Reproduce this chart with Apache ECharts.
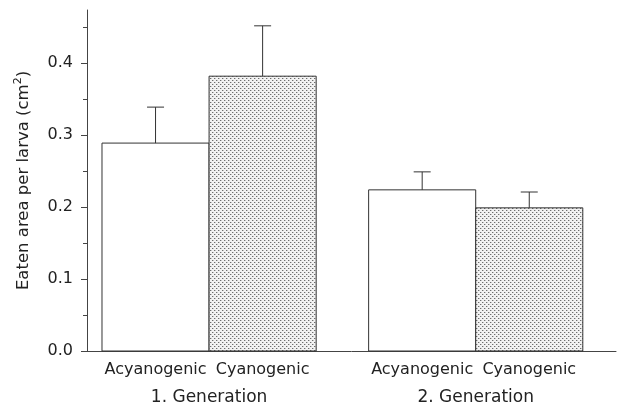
<!DOCTYPE html>
<html><head><meta charset="utf-8">
<script src="https://cdn.jsdelivr.net/npm/echarts@6/dist/echarts.min.js"></script>
<style>html,body{margin:0;padding:0;background:#fff}#c{width:617px;height:412px}</style>
</head><body><div id="c"></div><script>
// ---- data ----
const groups = ['1. Generation', '2. Generation'];
const types = ['Acyanogenic', 'Cyanogenic'];
const acyanoMean = [0.289, 0.224];
const acyanoErr = [0.050, 0.025];
const cyanoMean = [0.382, 0.199];
const cyanoErr = [0.070, 0.022];
const yTicks = [0, 0.1, 0.2, 0.3, 0.4];
const yMinorTicks = [0.05, 0.15, 0.25, 0.35, 0.45];

// ---- layout (x axis in bar-width units) ----
const groupCenters = [1.14, 3.63];
const X_MAX = 4.94;
const FONT = '"DejaVu Sans", "Liberation Sans", Arial, sans-serif';
const LINE = '#333';

// dotted fill pattern
const pc = document.createElement('canvas');
pc.width = 4; pc.height = 4;
const px = pc.getContext('2d');
px.fillStyle = '#f2f2f2'; px.fillRect(0, 0, 4, 4);
px.fillStyle = '#c4c4c4';
px.fillRect(1, 0, 1, 1); px.fillRect(3, 2, 1, 1);
px.fillStyle = '#6e6e6e';
px.fillRect(0, 0, 1, 1); px.fillRect(2, 2, 1, 1);
const dotPattern = { image: pc, repeat: 'repeat' };

const chart = echarts.init(document.getElementById('c'), null, { renderer: 'canvas' });

function barRenderer(sub, fill) {
  return function (params, api) {
    const g = api.value(0), v = api.value(1), e = api.value(2);
    const c = groupCenters[g] + (sub === 0 ? -0.5 : 0.5);
    const tl = api.coord([c - 0.5, v]);
    const br = api.coord([c + 0.5, 0]);
    const top = api.coord([c, v + e]);
    const mid = api.coord([c, v]);
    const capHalf = 8.5;
    return {
      type: 'group',
      children: [
        { type: 'rect', shape: { x: tl[0], y: tl[1], width: br[0] - tl[0], height: br[1] - tl[1] },
          style: { fill: fill, stroke: LINE, lineWidth: 1 } },
        { type: 'line', shape: { x1: mid[0], y1: mid[1], x2: top[0], y2: top[1] },
          style: { stroke: LINE, lineWidth: 1 } },
        { type: 'line', shape: { x1: top[0] - capHalf, y1: top[1], x2: top[0] + capHalf, y2: top[1] },
          style: { stroke: LINE, lineWidth: 1 } },
        { type: 'text', x: mid[0], y: br[1] + 19,
          style: { text: types[sub], fontSize: 16, fontFamily: FONT, fill: '#222', align: 'center', verticalAlign: 'middle' } }
      ]
    };
  };
}

chart.setOption({
  animation: false,
  backgroundColor: '#fff',
  grid: { left: 87, right: 1, top: 10, bottom: 61, containLabel: false },
  xAxis: {
    type: 'value', min: 0, max: X_MAX,
    axisLine: { show: true, lineStyle: { color: '#444', width: 1 } },
    axisTick: { show: false }, axisLabel: { show: false }, splitLine: { show: false }
  },
  yAxis: [{
    type: 'value', min: 0, max: 0.474, interval: 0.1,
    axisLine: { show: true, lineStyle: { color: '#444', width: 1 } },
    axisTick: { show: true, length: 6, customValues: yTicks, lineStyle: { color: '#444' } },
    axisLabel: { customValues: yTicks, margin: 14, fontSize: 16, fontFamily: FONT, color: '#222',
      formatter: v => v.toFixed(1) },
    splitLine: { show: false },
    name: '{a|Eaten area per larva (cm}{s|2}{a|)}',
    nameLocation: 'middle', nameGap: 52, nameRotate: 90,
    nameTextStyle: { rich: {
      a: { fontSize: 16.5, fontFamily: FONT, color: '#222', lineHeight: 22 },
      s: { fontSize: 11, fontFamily: FONT, color: '#222', verticalAlign: 'top', lineHeight: 22 }
    } }
  }, {
    type: 'value', min: 0, max: 0.474, position: 'left',
    axisLine: { show: false },
    axisTick: { show: true, length: 4, customValues: yMinorTicks, lineStyle: { color: '#444' } },
    axisLabel: { show: false }, splitLine: { show: false }
  }],
  series: [
    { type: 'custom', renderItem: barRenderer(0, '#fff'),
      data: acyanoMean.map((v, i) => [i, v, acyanoErr[i]]) },
    { type: 'custom', renderItem: barRenderer(1, dotPattern),
      data: cyanoMean.map((v, i) => [i, v, cyanoErr[i]]) },
    { type: 'custom',
      renderItem: function (params, api) {
        const g = api.value(0);
        const p = api.coord([groupCenters[g], 0]);
        return { type: 'text', x: p[0], y: p[1] + 47,
          style: { text: groups[g], fontSize: 17, fontFamily: FONT, fill: '#222', align: 'center', verticalAlign: 'middle' } };
      },
      data: groups.map((g, i) => [i, 0]) }
  ]
});
</script></body></html>
